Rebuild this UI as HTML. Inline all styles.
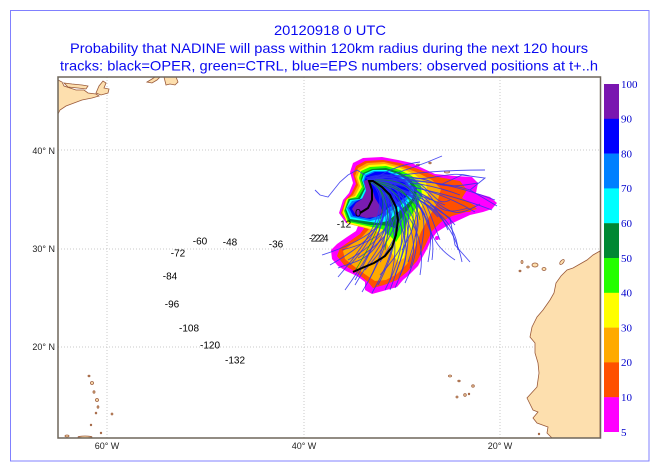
<!DOCTYPE html>
<html><head><meta charset="utf-8"><style>
html,body{margin:0;padding:0;background:#fff;}
svg{display:block;}
</style></head><body>
<svg width="659" height="472" viewBox="0 0 659 472" xmlns="http://www.w3.org/2000/svg">
<rect width="659" height="472" fill="#fff"/>
<rect x="10.5" y="10.5" width="638.5" height="450.5" fill="none" stroke="#8080ff" stroke-width="1"/>
<g font-family="Liberation Sans, Arial, sans-serif" font-size="14" fill="#0a0af0" text-anchor="middle">
<text x="330" y="35" textLength="112" lengthAdjust="spacingAndGlyphs">20120918 0 UTC</text>
<text x="329" y="53" textLength="518" lengthAdjust="spacingAndGlyphs">Probability that NADINE will pass within 120km radius during the next 120 hours</text>
<text x="329" y="70.5" textLength="538" lengthAdjust="spacingAndGlyphs">tracks: black=OPER, green=CTRL, blue=EPS numbers: observed positions at t+..h</text>
</g>
<g stroke="#c8c8c8" stroke-width="1" stroke-dasharray="1,2">
<line x1="107" y1="77" x2="107" y2="438"/><line x1="304" y1="77" x2="304" y2="438"/><line x1="500" y1="77" x2="500" y2="438"/>
<line x1="58" y1="150" x2="600" y2="150"/><line x1="58" y1="249" x2="600" y2="249"/><line x1="58" y1="347" x2="600" y2="347"/>
</g>
<g fill="#fddfae" stroke="#9a5a3a" stroke-width="0.8">
<path d="M58,80 L62,82 L64,86 L70,88 L76,90 L84,90 L88,93 L96,94 L99,96 L92,98 L82,100 L74,103 L66,106 L60,110 L58,114 Z"/>
<path d="M64,83 L72,84 L82,85 L88,86 L86,89 L78,88 L68,87 Z"/>
<path d="M96,93 L99,86 L103,81 L106,83 L104,88 L109,89 L108,93 L101,95 Z"/>
<path d="M147,82 L152,79 L155,77 L160,77 L157,80 L152,83 Z"/>
<path d="M164,77 L176,77 L178,82 L175,85 L170,84 L166,85 L165,81 Z"/>
<path d="M600,251 L593,255 L587,260 L580,264 L573,268 L567,270 L561,276 L556,283 L554,293 L550,300 L543,310 L537,317 L532,327 L530,337 L535,343 L535,353 L538,363 L539,373 L537,387 L527,398 L533,410 L538,412 L533,418 L537,423 L548,427 L547,433 L552,438 L600,438 Z"/>
<ellipse cx="535" cy="265" rx="3" ry="2"/><ellipse cx="544" cy="269" rx="2" ry="1.5"/><ellipse cx="562" cy="262" rx="1.5" ry="3" transform="rotate(40 562 262)"/>
<ellipse cx="528" cy="267" rx="1.2" ry="1"/><ellipse cx="522" cy="262" rx="1" ry="1.5"/><ellipse cx="520" cy="271" rx="1" ry="0.8"/>
<ellipse cx="450" cy="376" rx="1.5" ry="1"/><ellipse cx="459" cy="381" rx="1.2" ry="0.8"/><ellipse cx="473" cy="386" rx="1.3" ry="1.2"/>
<ellipse cx="457" cy="397" rx="1" ry="1"/><ellipse cx="465" cy="395" rx="1.3" ry="1.3"/><ellipse cx="469" cy="394" rx="0.8" ry="0.8"/>
<ellipse cx="539" cy="434" rx="0.8" ry="0.8"/>
<ellipse cx="89" cy="376" rx="1" ry="0.8"/><ellipse cx="92" cy="383" rx="1.5" ry="1.5"/><ellipse cx="94" cy="392" rx="1" ry="1.2"/>
<ellipse cx="97" cy="400" rx="1.5" ry="1.5"/><ellipse cx="98" cy="407" rx="0.9" ry="1.2"/><ellipse cx="96" cy="413" rx="0.8" ry="0.9"/>
<ellipse cx="91" cy="425" rx="0.8" ry="0.8"/><ellipse cx="101" cy="433" rx="0.8" ry="0.8"/><ellipse cx="112" cy="414" rx="0.9" ry="1"/>
<ellipse cx="67" cy="436" rx="2" ry="1"/><ellipse cx="85" cy="437" rx="7" ry="1"/>
<ellipse cx="418" cy="165" rx="1.5" ry="0.8"/><ellipse cx="430" cy="163" rx="1.2" ry="0.8"/><ellipse cx="447" cy="172" rx="2.5" ry="1"/>
</g>
<!-- probability layers -->
<path fill="#ff00ff" d="M353,163 L363,158 L382,157 L398,160 L412,163 L420,167 L435,174 L455,176 L472,177 L478,183 L476,193 L490,197 L497,203 L492,209 L483,212 L470,215 L457,221 L445,227 L437,232 L431,240 L427,249 L422,258 L418,266 L410,274 L403,280 L397,287 L383,291 L372,294 L365,290 L365,282 L357,276 L346,271 L338,266 L332,259 L331,250 L337,244 L347,237 L356,231 L358,226 L346,223 L339,213 L343,200 L349,193 L353,183 L350,172 Z"/>
<circle cx="437" cy="238" r="2" fill="#ff00ff"/>
<path fill="#ff5000" d="M356,166 L365,161 L383,160 L400,163 L418,169 L438,177 L460,181 L467,190 L462,198 L472,204 L477,209 L466,212 L452,216 L441,222 L432,231 L425,246 L417,261 L407,272 L397,280 L384,285 L373,288 L368,282 L357,273 L344,265 L337,256 L340,248 L350,241 L360,234 L365,227 L348,223 L341,213 L345,200 L351,194 L356,184 L353,174 Z"/>
<path fill="#ff5000" d="M455,205 L468,202 L476,206 L470,212 L458,212 Z"/>
<path fill="#ffaa00" d="M358,168 L367,163 L384,162 L400,166 L416,172 L432,180 L441,189 L437,203 L429,217 L421,232 L414,250 L407,264 L397,274 L386,280 L375,281 L366,275 L355,267 L345,259 L343,251 L352,244 L362,237 L369,229 L349,224 L342,213 L346,200 L353,195 L358,185 L355,176 Z"/>
<path fill="#ffff00" d="M360,170 L369,165 L385,164 L400,168 L414,174 L426,183 L428,195 L421,208 L414,222 L408,240 L404,258 L398,262 L391,252 L385,240 L378,232 L370,229 L347,223 L343,212 L347,199 L355,196 L360,186 L357,177 Z"/>
<path fill="#22ff00" d="M361,171 L370,167 L386,166 L400,170 L412,176 L421,186 L422,196 L416,208 L408,220 L401,234 L396,242 L390,236 L382,229 L372,227 L348,222 L344,211 L348,199 L356,197 L362,187 L359,178 Z"/>
<path fill="#008833" d="M363,173 L372,169 L386,168 L399,172 L409,178 L417,188 L416,198 L409,208 L401,219 L395,228 L388,226 L380,225 L370,225 L349,221 L345,210 L349,199 L358,198 L364,188 L361,179 Z"/>
<path fill="#00ffff" d="M364,174 L373,170 L386,170 L398,174 L407,180 L414,189 L412,199 L404,207 L396,214 L388,221 L378,223 L350,219 L346,209 L350,200 L360,199 L365,189 L362,180 Z"/>
<path fill="#0080ff" d="M365,175 L374,171 L386,171 L397,175 L406,181 L412,190 L409,198 L401,205 L391,211 L383,218 L370,221 L351,217 L347,208 L352,201 L362,199 L366,190 L363,181 Z"/>
<path fill="#0000ff" d="M366,176 L375,172 L387,172 L397,176 L405,182 L410,190 L406,197 L397,203 L388,208 L381,215 L370,219 L353,216 L349,208 L355,202 L363,198 L367,190 L364,182 Z"/>
<path fill="#7a1cb0" d="M364,181 L369,179 L372,188 L375,198 L380,206 L383,212 L376,217 L366,218 L356,215 L352,209 L356,203 L362,199 L366,191 Z"/>
<!-- EPS tracks -->
<g fill="none" stroke="#3030f0" stroke-width="0.9" stroke-opacity="0.85">
<path d="M368,181 Q405,195 355,280"/>
<path d="M368,181 Q410,200 345,290"/>
<path d="M370,182 Q400,205 338,277"/>
<path d="M369,181 Q415,205 362,292"/>
<path d="M370,182 Q420,210 372,293"/>
<path d="M370,182 Q425,215 385,290"/>
<path d="M371,182 Q430,210 395,288"/>
<path d="M371,181 Q440,210 405,283"/>
<path d="M372,182 Q430,220 420,275"/>
<path d="M372,182 Q420,230 342,250"/>
<path d="M372,181 Q415,225 322,255"/>
<path d="M372,182 Q410,220 330,265"/>
<path d="M373,181 Q440,200 432,260"/>
<path d="M373,181 Q450,200 462,262"/>
<path d="M373,182 Q455,205 458,250"/>
<path d="M373,182 Q430,205 415,237"/>
<path d="M374,182 Q400,220 370,278"/>
<path d="M374,182 Q405,230 390,280"/>
<path d="M375,182 Q420,240 400,275"/>
<path d="M375,182 Q395,215 350,265"/>
<path d="M376,181 Q415,215 378,285"/>
<path d="M376,181 Q425,225 410,268"/>
<path d="M372,180 Q420,170 485,170"/>
<path d="M372,180 Q430,175 495,200"/>
<path d="M372,180 Q440,190 492,210"/>
<path d="M372,180 Q430,185 475,212"/>
<path d="M372,180 Q420,180 460,195"/>
<path d="M372,180 Q425,180 448,230"/>
<path d="M372,180 Q410,170 442,156"/>
<path d="M372,180 Q440,180 470,190"/>
<path d="M372,180 Q415,190 438,217"/>
<path d="M372,180 Q430,195 455,225"/>
<path d="M372,180 Q400,176 430,200"/>
<path d="M372,180 Q410,185 425,215"/>
<path d="M372,180 Q395,165 420,162"/>
<path d="M372,180 Q420,195 445,205"/>
<path d="M366,178 C390,170 405,178 412,190 S420,220 402,250"/>
<path d="M366,178 C392,172 410,182 415,196 S418,235 408,262"/>
<path d="M367,179 C385,175 400,185 404,198 S398,235 380,262"/>
<path d="M367,179 C388,172 412,176 425,188 S440,205 450,200"/>
<path d="M368,179 C390,174 408,180 418,192 S430,215 440,240"/>
<path d="M368,180 C386,176 398,186 400,200 S392,240 365,270"/>
<path d="M368,180 C392,175 418,176 432,182 S460,186 478,183"/>
<path d="M369,180 C392,176 410,186 418,202 S425,230 420,255"/>
<path d="M369,180 C385,178 395,190 396,205 S388,240 358,258"/>
<path d="M369,180 C395,174 420,182 430,196 S445,215 468,208"/>
<path d="M370,181 C390,180 405,195 408,212 S405,250 395,275"/>
<path d="M370,181 C398,178 416,190 424,208 S432,240 428,262"/>
<path d="M370,181 C385,182 394,196 392,212 S375,245 348,260"/>
<path d="M371,181 C395,178 412,180 428,178 S455,172 470,176"/>
<path d="M371,181 C392,184 402,200 404,222 S398,255 380,275"/>
<path d="M372,181 C398,182 418,198 426,220 S440,250 455,260"/>
<path d="M372,181 C388,186 392,205 388,225 S372,255 355,285"/>
<path d="M373,181 C400,182 425,194 440,205 S462,214 480,204"/>
<path d="M373,182 C395,190 405,210 405,230 S400,262 390,290"/>
<path d="M373,182 C390,195 392,218 380,240 S352,262 338,268"/>
<path d="M315,190 L320,195 L328,197 L340,182 L348,175 L357,170 L365,175"/>
<path d="M440,185 L462,175 L485,178 L470,190 L497,206"/>
<path d="M430,205 L450,218 L455,245 L470,262"/>
</g>
<g fill="none" stroke="#109a20" stroke-width="0.8" stroke-opacity="0.85">
<path d="M372,181 Q400,195 395,240"/>
<path d="M372,181 Q410,190 405,235"/>
<path d="M374,182 Q415,190 420,220"/>
<path d="M373,181 Q395,200 385,250"/>
<path d="M373,181 Q420,185 412,230"/>
<path d="M375,180 Q412,178 418,205"/>
<path d="M370,182 Q402,195 355,271"/>
</g>
<path fill="none" stroke="#000" stroke-width="2" d="M360,213 L368,208 L372,200 L372,190 L369,181 L373,181 L382,187 L390,195 L396,207 L398,220 L396,235 L392,247 L385,256 L374,263 L362,268 L353,272"/>
<rect x="58" y="77" width="542.5" height="361" fill="none" stroke="#6e665a" stroke-width="1.5"/>
<!-- observed positions -->
<g font-family="Liberation Sans, Arial, sans-serif" font-size="10" fill="#000" text-anchor="middle">
<text x="200" y="244.5">-60</text>
<text x="230" y="245.5">-48</text>
<text x="276" y="247.5">-36</text>
<text x="318" y="241.5" letter-spacing="-1.5">-2224</text>
<text x="344" y="227.5">-12</text>
<text x="358" y="216.5" font-size="11">0</text>
<text x="178" y="256.5">-72</text>
<text x="170" y="279.5">-84</text>
<text x="172" y="307.5">-96</text>
<text x="189" y="331.5">-108</text>
<text x="210" y="348.5">-120</text>
<text x="235" y="363.5">-132</text>
</g>
<!-- axis labels -->
<g font-family="Liberation Sans, Arial, sans-serif" font-size="9" fill="#222">
<text x="55" y="154" text-anchor="end">40° N</text>
<text x="55" y="252" text-anchor="end">30° N</text>
<text x="55" y="350" text-anchor="end">20° N</text>
<text x="107" y="449" text-anchor="middle">60° W</text>
<text x="304" y="449" text-anchor="middle">40° W</text>
<text x="500" y="449" text-anchor="middle">20° W</text>
</g>
<!-- colorbar -->
<g>
<rect x="604" y="84" width="15" height="35" fill="#7a16b0"/>
<rect x="604" y="118.8" width="15" height="35" fill="#0000ff"/>
<rect x="604" y="153.6" width="15" height="35" fill="#0080ff"/>
<rect x="604" y="188.4" width="15" height="35" fill="#00ffff"/>
<rect x="604" y="223.2" width="15" height="35" fill="#008833"/>
<rect x="604" y="258" width="15" height="35" fill="#22ff00"/>
<rect x="604" y="292.8" width="15" height="35" fill="#ffff00"/>
<rect x="604" y="327.6" width="15" height="35" fill="#ffaa00"/>
<rect x="604" y="362.4" width="15" height="35" fill="#ff5000"/>
<rect x="604" y="397.2" width="15" height="34.8" fill="#ff00ff"/>
</g>
<g font-family="Liberation Serif, Times New Roman, serif" font-size="11" fill="#0000cc">
<text x="621" y="88">100</text>
<text x="621" y="122.5">90</text>
<text x="621" y="157.5">80</text>
<text x="621" y="192">70</text>
<text x="621" y="227">60</text>
<text x="621" y="262">50</text>
<text x="621" y="296.5">40</text>
<text x="621" y="331.5">30</text>
<text x="621" y="366">20</text>
<text x="621" y="401">10</text>
<text x="621" y="436">5</text>
</g>
</svg>
</body></html>
